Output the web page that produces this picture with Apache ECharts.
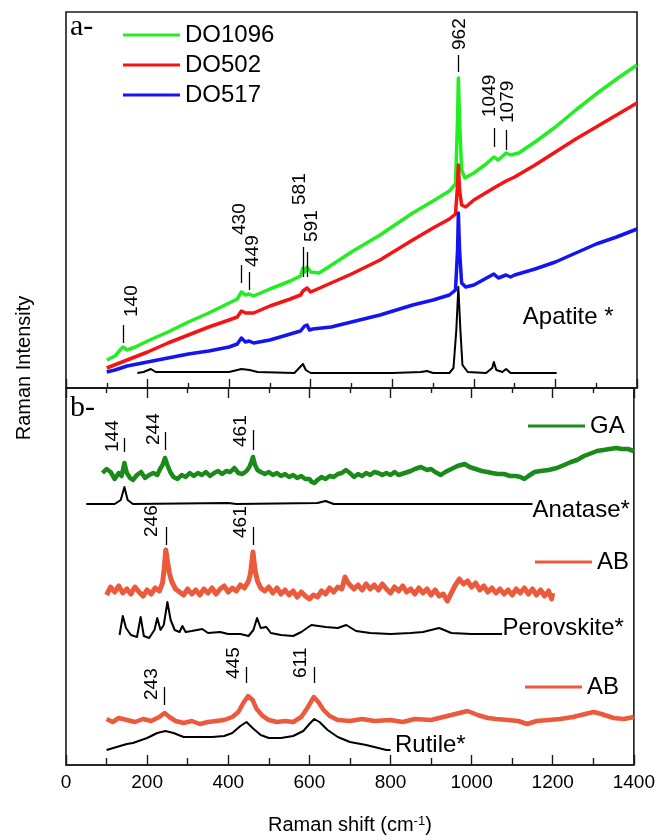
<!DOCTYPE html>
<html>
<head>
<meta charset="utf-8">
<script src="https://cdn.jsdelivr.net/npm/echarts@6/dist/echarts.min.js"></script>
<style>
  html, body { margin: 0; padding: 0; background: #fff; }
  #chart { width: 658px; height: 840px; }
</style>
</head>
<body>
<div id="chart"></div>
<script>
// ---- panel a- (apatite), intensity in arbitrary units ----
const do1096X = [100,120,135,140,150,170,200,250,300,350,400,420,430,440,449,460,500,550,575,581,586,591,600,620,640,700,770,850,900,940,955,960,962,965,970,978,1000,1030,1049,1060,1079,1090,1110,1150,1200,1250,1300,1350,1400];
const do1096Y = [28,32,39,41,38,41,47,56,66,75,85,89,96,93,94,92,99,107,112,120,116,121,116,115,120,136,153,175,187,197,204,268,310,268,218,210,215,224,231,228,235,233,235,246,261,278,294,309,323];

const do502X = [100,150,200,250,300,350,400,420,430,440,460,500,550,575,581,591,600,650,700,770,850,900,940,955,960,962,965,970,980,1000,1049,1079,1100,1150,1200,1250,1300,1350,1400];
const do502Y = [20,28,36,45,53,61,68,71,77,75,75,82,89,93,97,100,96,105,114,128,148,160,169,174,203,223,198,183,181,188,200,207,211,223,236,249,261,273,285];

const do517X = [100,120,150,200,250,300,350,400,420,430,440,449,460,500,550,575,585,591,597,605,650,700,770,850,900,940,955,960,962,965,970,980,1000,1049,1060,1079,1090,1100,1150,1200,1250,1300,1350,1400];
const do517Y = [16,18,22,26,30,34,37,41,44,50,46,47,45,48,54,57,62,63,58,59,61,66,73,83,88,93,98,138,175,138,105,101,103,114,110,113,111,113,119,126,135,144,151,159];

const apatiteX = [175,190,208,220,300,400,430,450,470,560,581,588,591,600,700,800,870,885,900,940,950,957,962,967,972,985,1030,1045,1049,1055,1070,1079,1090,1203];
const apatiteY = [15,16,19,16,16,16,19,18,16,15,24,18,20,15,15,15,16,17,15,15,20,58,101,58,23,16,15,20,26,18,16,19,15,15];

// ---- panel b- (TiO2 phases) ----
const gaX = [90,100,110,120,130,137,144,150,158,165,175,185,195,205,215,225,232,238,244,250,257,265,275,285,295,305,315,325,335,345,355,365,375,385,395,405,415,425,435,445,452,457,461,466,472,480,490,500,510,520,530,540,550,560,570,580,590,600,606,612,620,630,640,650,660,670,680,690,700,710,720,730,740,750,760,770,780,790,800,810,820,835,850,860,875,890,900,910,924,935,950,965,983,995,1010,1025,1039,1050,1065,1080,1095,1110,1120,1130,1140,1155,1170,1190,1210,1228,1245,1260,1277,1290,1309,1325,1340,1357,1370,1385,1400];
const gaY = [292,296,293,286,292,289,302,292,287,285,290,293,287,290,292,290,296,300,307,300,293,288,286,290,288,292,289,292,290,293,289,292,294,291,294,293,297,292,291,294,298,303,308,300,295,293,291,293,290,292,289,291,288,290,287,289,286,286,283,282,285,288,286,289,288,291,292,295,292,288,291,289,292,290,293,292,290,292,290,293,290,292,294,296,298,295,296,293,290,293,296,299,301,298,296,294,293,292,291,291,289,289,288,286,289,293,294,295,297,300,303,305,309,311,314,315,316,317,316,316,314];

const anataseX = [50,120,135,144,152,165,400,420,620,640,660,1150];
const anataseY = [261,261,265,278,265,261,262,261,262,264,261,261];

const ab1X = [100,110,120,130,140,150,160,170,180,190,200,210,220,230,238,242,246,250,255,260,270,280,290,300,310,320,330,340,350,360,370,380,390,400,410,420,430,440,450,455,461,466,472,480,490,500,510,520,530,540,550,560,570,580,590,600,610,620,630,640,650,660,670,680,688,694,700,710,720,730,740,750,760,770,780,790,800,810,820,830,840,850,860,870,880,890,900,910,920,930,940,950,960,970,980,990,1000,1010,1020,1030,1040,1050,1060,1070,1080,1090,1100,1110,1120,1130,1140,1150,1160,1170,1180,1190,1197,1200];
const ab1Y = [170,178,173,179,172,176,171,178,173,169,175,171,177,174,182,196,215,204,192,184,176,173,170,176,171,175,170,176,172,177,171,176,179,173,177,174,180,177,184,192,213,195,184,177,174,178,172,177,171,175,170,174,168,173,169,166,170,168,174,171,177,173,178,176,188,183,180,176,180,175,181,176,180,175,181,176,172,178,174,179,173,176,171,177,172,176,170,175,169,171,164,172,180,186,181,184,178,182,175,179,173,177,172,176,171,175,170,176,172,177,171,176,170,175,169,174,166,172];

const perovskiteX = [132,140,148,160,175,184,192,205,218,225,233,241,250,258,268,280,287,295,310,336,350,380,400,430,450,462,471,480,494,505,530,560,580,605,640,670,691,715,750,800,850,880,920,950,1000,1075];
const perovskiteY = [130,149,137,130,128,148,129,127,135,147,135,140,163,145,135,133,139,133,134,136,132,133,131,131,129,135,147,137,138,132,130,129,133,140,138,137,140,134,132,131,132,133,137,132,131,131];

const ab2X = [100,115,130,150,170,190,210,230,243,255,270,290,310,330,350,370,390,410,425,437,449,460,470,485,500,520,540,560,580,595,611,622,635,650,670,700,730,760,800,830,860,900,940,970,990,1015,1040,1060,1090,1115,1137,1160,1190,1218,1250,1280,1301,1320,1350,1375,1400];
const ab2Y = [46,43,47,45,43,46,44,48,52,48,44,42,44,41,43,44,45,48,53,62,69,65,56,49,45,43,44,43,48,57,68,63,55,49,45,44,46,44,45,43,46,45,49,52,54,50,47,46,45,44,41,44,45,46,48,51,53,51,47,46,48];

const rutileX = [100,125,150,165,200,225,245,265,290,320,360,390,410,430,445,460,480,500,530,560,585,600,612,625,645,670,700,740,770,790,800];
const rutileY = [15,18,21,22,27,32,34,32,28,28,28,29,32,39,43,37,30,27,27,29,34,41,46,43,35,28,23,20,17,15,15];

// peak tags: text, text anchor [x, y], tick [x, y1, y2]
const tagsA = ['140','430','449','581','591','962','1049','1079'];
const tagPosA = [[162,71],[427,153],[458,121],[574,183],[603,146],[966,338],[1040,271],[1084,265]];
const tickA = [[140,63,45],[430,123,105],[449,116,98],[581,141,111],[591,136,111],[962,333,316],[1049,260,241],[1079,258,238]];

const tagsB = ['144','244','461','246','461','243','445','611'];
const tagPosB = [[115,313],[216,320],[432,318],[211,228],[432,227],[211,65],[414,86],[579,87]];
const tickB = [[144,327,313],[244,333,315],[461,335,315],[246,238,220],[461,238,220],[243,78,60],[445,98,82],[611,98,82]];

// reference names next to the black curves
const refNamesA = ['Apatite *'];
const refPosA = [[1120,71]];
const refNamesB = ['Anatase*','Perovskite*','Rutile*'];
const refPosB = [[1150,255],[1076,137],[811,20]];

const SANS = 'Liberation Sans, Arial, sans-serif';
const SERIF = 'Liberation Serif, Times New Roman, serif';
const INK = '#000';

function pairs(xs, ys) {
  return xs.map((x, i) => [x, ys[i]]);
}

function spectrum(name, xs, ys, color, width, grid) {
  return {
    name: name,
    type: 'line',
    xAxisIndex: grid,
    yAxisIndex: grid,
    data: pairs(xs, ys),
    symbol: 'none',
    showSymbol: false,
    color: color,
    itemStyle: { color: color },
    lineStyle: { color: color, width: width, join: 'round', opacity: 1 },
    silent: true,
    z: 3
  };
}

function tagSeries(grid, names, pos, ticks) {
  return {
    type: 'scatter',
    xAxisIndex: grid,
    yAxisIndex: grid,
    symbolSize: 0,
    silent: true,
    itemStyle: { opacity: 1 },
    data: names.map((n, i) => ({ name: n, value: pos[i] })),
    label: {
      show: true,
      formatter: '{b}',
      position: 'inside',
      rotate: 90,
      align: 'left',
      verticalAlign: 'middle',
      fontSize: 19,
      fontFamily: SANS,
      color: INK,
      opacity: 1
    },
    markLine: {
      silent: true,
      symbol: ['none', 'none'],
      label: { show: false },
      lineStyle: { color: INK, width: 1.3, type: 'solid', opacity: 1 },
      data: ticks.map(t => [{ coord: [t[0], t[1]] }, { coord: [t[0], t[2]] }])
    },
    z: 5
  };
}

function nameSeries(grid, names, pos) {
  return {
    type: 'scatter',
    xAxisIndex: grid,
    yAxisIndex: grid,
    symbolSize: 0,
    silent: true,
    itemStyle: { opacity: 1 },
    data: names.map((n, i) => ({ name: n, value: pos[i] })),
    label: {
      show: true,
      formatter: '{b}',
      position: 'inside',
      align: 'left',
      verticalAlign: 'middle',
      fontSize: 24,
      fontFamily: SANS,
      color: INK,
      opacity: 1
    },
    z: 5
  };
}

function tickAxis(grid, pos, major, minor, labels) {
  return {
    type: 'value',
    gridIndex: grid,
    position: pos,
    min: 0,
    max: 1400,
    interval: 200,
    axisLine: { show: true, onZero: false, lineStyle: { color: '#1a1a1a', width: 1.6 } },
    axisTick: { show: true, inside: true, length: major, lineStyle: { color: '#1a1a1a', width: 1.4 } },
    minorTick: { show: true, splitNumber: 2, length: minor, lineStyle: { color: '#1a1a1a', width: 1.4 } },
    axisLabel: { show: labels, fontSize: 19, fontFamily: SANS, color: INK, margin: 8, formatter: v => String(v) },
    splitLine: { show: false },
    minorSplitLine: { show: false }
  };
}

const legendText = { fontSize: 24, fontFamily: SANS, color: INK, lineHeight: 24 };
function legendAt(names, left, top) {
  return {
    data: names,
    orient: 'vertical',
    left: left,
    top: top,
    padding: 0,
    itemGap: 6,
    itemWidth: 57,
    itemHeight: 3,
    icon: 'rect',
    selectedMode: false,
    textStyle: legendText
  };
}

const chart = echarts.init(document.getElementById('chart'), null, { renderer: 'canvas' });

const xMain = tickAxis(1, 'bottom', 10, 7, true);
xMain.name = 'Raman shift (cm{sup|-1})';
xMain.nameLocation = 'middle';
xMain.nameGap = 50;
xMain.nameTextStyle = {
  fontSize: 20,
  fontFamily: SANS,
  color: INK,
  rich: { sup: { fontSize: 13, fontFamily: SANS, color: INK, verticalAlign: 'top', padding: [0, 0, 8, 0] } }
};

const option = {
  animation: false,
  backgroundColor: '#fff',
  grid: [
    { left: 66, top: 12, width: 571, height: 376, show: true, borderColor: '#1a1a1a', borderWidth: 1.6, backgroundColor: 'transparent' },
    { left: 66, top: 388, width: 571, height: 377, show: true, borderColor: '#1a1a1a', borderWidth: 1.6, backgroundColor: 'transparent' }
  ],
  xAxis: [
    tickAxis(0, 'bottom', 9, 5, false),
    xMain,
    tickAxis(1, 'top', 10, 5, false)
  ],
  yAxis: [
    { type: 'value', gridIndex: 0, min: 0, max: 376, show: false },
    { type: 'value', gridIndex: 1, min: 0, max: 377, show: false }
  ],
  legend: [
    legendAt(['DO1096', 'DO502', 'DO517'], 123, 23),
    legendAt(['GA'], 528, 414),
    legendAt(['AB'], 535, 550),
    legendAt(['AB'], 525, 675)
  ],
  graphic: [
    { type: 'text', left: 70, top: 12, style: { text: 'a-', fontSize: 30, fontFamily: SERIF, fill: INK } },
    { type: 'text', left: 70, top: 393, style: { text: 'b-', fontSize: 30, fontFamily: SERIF, fill: INK } },
    {
      type: 'text', x: 24, y: 368, rotation: Math.PI / 2,
      style: { text: 'Raman Intensity', fontSize: 20, fontFamily: SANS, fill: INK, align: 'center', verticalAlign: 'middle' }
    }
  ],
  series: [
    spectrum('DO1096', do1096X, do1096Y, '#22EE22', 3.5, 0),
    spectrum('DO502', do502X, do502Y, '#F51414', 3.5, 0),
    spectrum('DO517', do517X, do517Y, '#1414F0', 3.5, 0),
    spectrum('Apatite', apatiteX, apatiteY, '#000', 2, 0),
    spectrum('GA', gaX, gaY, '#1A8A1A', 4.5, 1),
    spectrum('Anatase', anataseX, anataseY, '#000', 2, 1),
    spectrum('AB', ab1X, ab1Y, '#EB5A3C', 5, 1),
    spectrum('Perovskite', perovskiteX, perovskiteY, '#000', 2, 1),
    spectrum('AB', ab2X, ab2Y, '#EB5A3C', 4.5, 1),
    spectrum('Rutile', rutileX, rutileY, '#000', 2, 1),
    tagSeries(0, tagsA, tagPosA, tickA),
    tagSeries(1, tagsB, tagPosB, tickB),
    nameSeries(0, refNamesA, refPosA),
    nameSeries(1, refNamesB, refPosB)
  ]
};

chart.setOption(option);
window.addEventListener('resize', () => {
  chart.resize();
});
</script>
</body>
</html>
